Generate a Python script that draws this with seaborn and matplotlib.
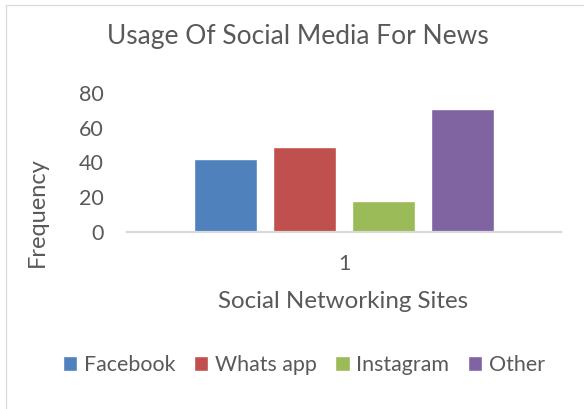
import matplotlib
matplotlib.use("Agg")
import matplotlib.pyplot as plt
import seaborn as sns
import pandas as pd
from matplotlib.patches import Rectangle

categories = ["1", "1", "1", "1"]
sites = ["Facebook", "Whats app", "Instagram", "Other"]
frequency = [42, 49, 18, 71]
colors = ["#4F81BD", "#C0504D", "#9BBB59", "#8064A2"]
yticks = [0, 20, 40, 60, 80]

sns.set_theme(style="white")
plt.rcParams["font.family"] = ["Lato", "DejaVu Sans"]
text_color = "#595959"

df = pd.DataFrame({"category": categories, "site": sites, "frequency": frequency})

W, H = 584, 409
fig = plt.figure(figsize=(W / 100, H / 100), dpi=100)
fig.patch.set_facecolor("white")

# outer chart border (cropped on right/bottom)
fig.patches.append(Rectangle((5.5 / W, -0.1), 1.2, (H - 5.5) / H + 0.1,
                             transform=fig.transFigure, fill=False,
                             edgecolor="#d9d9d9", linewidth=0.9))

left, right = 127 / W, 561 / W
top, bottom = (H - 93) / H, (H - 232) / H
ax = fig.add_axes([left, bottom, right - left, top - bottom])

sns.barplot(data=df, x="category", y="frequency", hue="site", hue_order=sites,
            palette=colors, width=0.728, gap=0.2, ax=ax, saturation=1)

ax.set_ylim(0, 80)
ax.set_xlim(-0.5, 0.5)
ax.set_yticks(yticks)
ax.set_yticklabels([str(v) for v in yticks])
ax.tick_params(axis="y", length=0, pad=16.5, labelsize=15.5, labelcolor=text_color)
ax.tick_params(axis="x", length=0, pad=16, labelsize=15.5, labelcolor=text_color)

for s in ["top", "right", "left"]:
    ax.spines[s].set_visible(False)
ax.spines["bottom"].set_color("#d9d9d9")
ax.spines["bottom"].set_linewidth(1.6)
ax.grid(False)

ax.set_xlabel("Social Networking Sites", fontsize=17.4, color=text_color, va="center")
ax.xaxis.set_label_coords((343 - 127) / 434, (232 - 302) / 139)
ax.set_ylabel("Frequency", fontsize=17, color=text_color, va="center")
ax.yaxis.set_label_coords((37 - 127) / 434, (232 - 212) / 139)

ax.set_title("Usage Of Social Media For News", fontsize=19, color=text_color,
             x=(298 - 127) / 434, y=(232 - 45) / 139, va="center")

sns.move_legend(ax, "center", bbox_to_anchor=((304 - 127) / 434, (232 - 365) / 139),
                ncol=4, frameon=False, title=None, fontsize=15.4,
                handlelength=0.67, handleheight=0.67, handletextpad=0.32,
                columnspacing=0.85, labelcolor=text_color)

fig.savefig("out.png", dpi=100)
